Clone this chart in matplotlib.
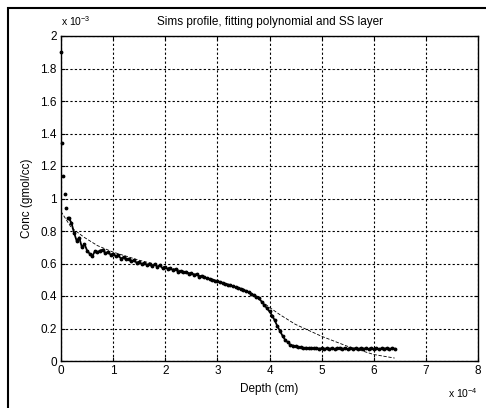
import matplotlib
matplotlib.use("Agg")
import matplotlib.pyplot as plt
from matplotlib.patches import Rectangle

plt.rcParams['font.family'] = ['Liberation Sans', 'DejaVu Sans']
plt.rcParams['mathtext.fontset'] = 'custom'
plt.rcParams['mathtext.rm'] = 'Liberation Sans'

# Depth in units of 1e-4 cm, concentration in units of 1e-3 gmol/cc
depth = [0.00, 0.01, 0.03, 0.08, 0.10, 0.13,
         0.15, 0.20, 0.25, 0.30, 0.35, 0.40, 0.45, 0.50, 0.55, 0.60,
         0.65, 0.70, 0.75, 0.80, 0.85, 0.90, 0.95, 1.00, 1.05, 1.10,
         1.15, 1.20, 1.25, 1.30, 1.35, 1.40, 1.45, 1.50, 1.55, 1.60,
         1.65, 1.70, 1.75, 1.80, 1.85, 1.90, 1.95, 2.00, 2.05, 2.10,
         2.15, 2.20, 2.25, 2.30, 2.35, 2.40, 2.45, 2.50, 2.55, 2.60,
         2.65, 2.70, 2.75, 2.80, 2.85, 2.90, 2.95, 3.00, 3.05, 3.10,
         3.15, 3.20, 3.25, 3.30, 3.35, 3.40, 3.45, 3.50, 3.55, 3.60,
         3.65, 3.70, 3.75, 3.80, 3.85, 3.90, 3.95, 4.00, 4.05, 4.10,
         4.15, 4.20, 4.25, 4.30, 4.35, 4.40, 4.45, 4.50, 4.55, 4.60,
         4.65, 4.70, 4.75, 4.80, 4.85, 4.90, 4.95, 5.00, 5.05, 5.10,
         5.15, 5.20, 5.25, 5.30, 5.35, 5.40, 5.45, 5.50, 5.55, 5.60,
         5.65, 5.70, 5.75, 5.80, 5.85, 5.90, 5.95, 6.00, 6.05, 6.10,
         6.15, 6.20, 6.25, 6.30, 6.35, 6.40]
conc = [1.90, 1.34, 1.14, 1.03, 0.94, 0.88,
        0.88, 0.85, 0.79, 0.74, 0.76, 0.70, 0.72, 0.68, 0.66, 0.645,
        0.675, 0.67, 0.68, 0.685, 0.665, 0.67, 0.655, 0.66, 0.645, 0.65,
        0.63, 0.64, 0.625, 0.63, 0.615, 0.62, 0.605, 0.61, 0.595, 0.605,
        0.59, 0.60, 0.585, 0.595, 0.58, 0.59, 0.57, 0.58, 0.565, 0.57,
        0.56, 0.565, 0.55, 0.555, 0.545, 0.55, 0.535, 0.54, 0.53, 0.535,
        0.52, 0.525, 0.515, 0.51, 0.505, 0.50, 0.495, 0.49, 0.485, 0.48,
        0.475, 0.47, 0.465, 0.46, 0.455, 0.45, 0.445, 0.44, 0.43, 0.425,
        0.415, 0.405, 0.395, 0.385, 0.365, 0.345, 0.325, 0.305, 0.28, 0.25,
        0.215, 0.185, 0.155, 0.13, 0.115, 0.10, 0.095, 0.09, 0.085, 0.085,
        0.08, 0.082, 0.078, 0.08, 0.077, 0.079, 0.076, 0.078, 0.074, 0.079,
        0.075, 0.08, 0.074, 0.078, 0.082, 0.075, 0.079, 0.074, 0.08, 0.076,
        0.079, 0.073, 0.08, 0.076, 0.078, 0.074, 0.079, 0.075, 0.08, 0.073,
        0.078, 0.076, 0.079, 0.074, 0.078, 0.076]

# Fitting polynomial
fit_depth = [0.0, 0.2, 0.45, 0.7, 1.0, 1.5, 2.0, 2.5, 3.0, 3.5, 3.8, 4.0,
             4.2, 4.5, 5.0, 5.5, 6.0, 6.4]
fit_conc = [0.92, 0.82, 0.76, 0.71, 0.67, 0.62, 0.58, 0.54, 0.495, 0.44,
            0.38, 0.33, 0.285, 0.225, 0.152, 0.09, 0.04, 0.018]

xticks = [0, 1, 2, 3, 4, 5, 6, 7, 8]
yticks = [0, 0.2, 0.4, 0.6, 0.8, 1, 1.2, 1.4, 1.6, 1.8, 2]
ytick_labels = ['0', '0.2', '0.4', '0.6', '0.8', '1', '1.2', '1.4', '1.6', '1.8', '2']

W, H = 486, 408
fig = plt.figure(figsize=(W / 100, H / 100), dpi=100)
L, R, T, B = 61, 478, 36, 361
ax = fig.add_axes([L / W, 1 - B / H, (R - L) / W, (B - T) / H])

# dense body of the profile drawn as a thick trace of dots
ax.plot(depth[5:], conc[5:], linestyle='-', color='k', linewidth=1.3,
        zorder=3)
ax.plot(depth, conc, linestyle='none', marker='.', color='k', markersize=3.5,
        clip_on=False, zorder=3)
ax.plot(fit_depth, fit_conc, linestyle=(0, (4, 2)), color='k', linewidth=0.6,
        zorder=2)

ax.set_xlim(0, 8)
ax.set_ylim(0, 2)
ax.set_xticks(xticks)
ax.set_xticklabels([str(t) for t in xticks])
ax.set_yticks(yticks)
ax.set_yticklabels(ytick_labels)
ax.grid(True, color='k', linestyle=(0, (2, 2)), linewidth=0.8)
ax.tick_params(direction='in', top=True, right=True, length=3, width=0.8,
               labelsize=8.5, pad=3)
for s in ax.spines.values():
    s.set_linewidth(1.0)

ax.set_xlabel('Depth (cm)', fontsize=8.5, labelpad=4)
ax.set_ylabel('Conc (gmol/cc)', fontsize=8.5, labelpad=5)
ax.set_title('Sims profile, fitting polynomial and SS layer', fontsize=8.5, pad=8)

fig.text(61 / W, 1 - 21 / H, r'x 10$^{-3}$', fontsize=7.5, ha='left', va='center')
fig.text(478 / W, 1 - 393 / H, r'x 10$^{-4}$', fontsize=7.5, ha='right', va='center')

fig.patches.append(Rectangle((8 / W, -0.1), 1.2, 1.1 - 8 / H,
                             transform=fig.transFigure, fill=False,
                             edgecolor='k', linewidth=1.5))

fig.savefig('out.png', dpi=100)
